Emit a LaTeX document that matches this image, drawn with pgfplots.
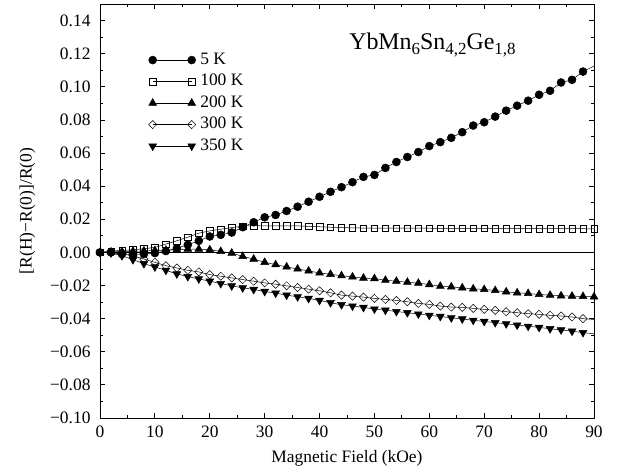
\documentclass[border=0pt]{standalone}
\usepackage{pgfplots}
\pgfplotsset{compat=1.18}
\usepackage{fontspec}
\setmainfont{Liberation Serif}
\newcommand{\sub}[1]{\raisebox{-5bp}{\fontsize{17}{17}\selectfont #1}}
\begin{document}
\begin{tikzpicture}
\begin{axis}[
  scale only axis,
  width=494bp, height=414bp,
  xmin=0, xmax=90, ymin=-0.10, ymax=0.15,
  xtick={0,10,20,30,40,50,60,70,80,90},
  minor x tick num=1,
  ytick={-0.10,-0.08,-0.06,-0.04,-0.02,0,0.02,0.04,0.06,0.08,0.10,0.12,0.14},
  yticklabels={{−0.10},{−0.08},{−0.06},{−0.04},{−0.02},{0.00},{0.02},{0.04},{0.06},{0.08},{0.10},{0.12},{0.14}},
  minor y tick num=1,
  major tick length=5bp, minor tick length=3bp,
  tick style={line width=0.8bp, black},
  axis line style={line width=0.9bp},
  /pgf/number format/assume math mode=true,
  tick label style={font=\fontsize{17.5}{21}\selectfont},
  yticklabel style={xshift=-6bp},
  xticklabel style={yshift=-4bp},
  label style={font=\fontsize{17.5}{21}\selectfont},
  xlabel={Magnetic Field (kOe)},
  ylabel={[R(H)−R(0)]/R(0)},
  xlabel style={at={(axis description cs:0.5,-0.0966)}, anchor=center},
  ylabel style={at={(axis description cs:-0.147,0.5)}, anchor=center},
  legend image code/.code={\draw[#1] plot coordinates {(0bp,0bp)(39bp,0bp)};},
  legend cell align=left,
  legend style={draw=none, fill=none, at={(rel axis cs:0.098,0.891)}, anchor=north west,
    font=\fontsize{17.5}{21}\selectfont, row sep=0pt, column sep=2.5bp, inner sep=0pt,
    nodes={inner sep=2bp, text height=13bp, text depth=4.5bp}},
  every axis plot/.append style={line width=0.5bp, black},
]
\addplot[no marks, forget plot, line width=0.6bp] coordinates {(0,0)(90,0)};

\addplot[mark=*, mark size=4bp, mark options={fill=black}] coordinates {
(0,0) (2,0.0000) (4,-0.0010) (6,-0.0012) (8,-0.0010) (10,-0.0004) (12,0.0008) (14,0.0025)
(16,0.0046) (18,0.0070) (20,0.0096) (22,0.0106) (24,0.0120) (26,0.0152) (28,0.0182)
(30,0.0212) (32,0.0226) (34,0.0250) (36,0.0276) (38,0.0306) (40,0.0336) (42,0.0366)
(44,0.0394) (46,0.0424) (48,0.0456) (50,0.0468) (52,0.0510) (54,0.0546) (56,0.0576)
(58,0.0606) (60,0.0642) (62,0.0666) (64,0.0692) (66,0.0726) (68,0.0766) (70,0.0786)
(72,0.0820) (74,0.0856) (76,0.0886) (78,0.0916) (80,0.0952) (82,0.0976) (84,0.1026)
(86,0.1042) (88,0.1092)};
\addlegendentry{5 K}

\addplot[mark=square, mark size=3.2bp, mark options={fill=white}] coordinates {
(0,0) (2,0.0008) (4,0.0012) (6,0.0016) (8,0.0022) (10,0.0030) (12,0.0050) (14,0.0070)
(16,0.0092) (18,0.0116) (20,0.0130) (22,0.0140) (24,0.0150) (26,0.0158) (28,0.0162)
(30,0.0160) (32,0.0160) (34,0.0160) (36,0.0160) (38,0.0157) (40,0.0155) (42,0.0152)
(44,0.0150) (46,0.0148) (48,0.0147) (50,0.0146) (52,0.0146) (54,0.0146) (56,0.0146)
(58,0.0146) (60,0.0146) (62,0.0145) (64,0.0145) (66,0.0145) (68,0.0145) (70,0.0145)
(72,0.0144) (74,0.0144) (76,0.0144) (78,0.0144) (80,0.0144) (82,0.0143) (84,0.0143)
(86,0.0143) (88,0.0143) (90,0.0142)};
\addlegendentry{100 K}

\addplot[mark=triangle*, mark size=4.5bp, mark options={fill=black}] coordinates {
(0,0) (2,0.0003) (4,0.0005) (6,0.0007) (8,0.0009) (10,0.0011) (12,0.0013) (14,0.0016)
(16,0.0020) (18,0.0020) (20,0.0016) (22,0.0006) (24,-0.0004) (26,-0.0024) (28,-0.0040)
(30,-0.0060) (32,-0.0074) (34,-0.0088) (36,-0.0100) (38,-0.0112) (40,-0.0124) (42,-0.0132)
(44,-0.0141) (46,-0.0148) (48,-0.0155) (50,-0.0158) (52,-0.0168) (54,-0.0174) (56,-0.0180)
(58,-0.0186) (60,-0.0194) (62,-0.0204) (64,-0.0208) (66,-0.0214) (68,-0.0220) (70,-0.0224)
(72,-0.0230) (74,-0.0238) (76,-0.0244) (78,-0.0248) (80,-0.0254) (82,-0.0258) (84,-0.0262)
(86,-0.0264) (88,-0.0266) (90,-0.0268)};
\addlegendentry{200 K}

\addplot[mark=square, mark size=2.9bp, mark options={fill=white, rotate=45}] coordinates {
(0,0) (2,0.0000) (4,-0.0010) (6,-0.0020) (8,-0.0040) (10,-0.0060) (12,-0.0080) (14,-0.0094)
(16,-0.0108) (18,-0.0118) (20,-0.0134) (22,-0.0144) (24,-0.0154) (26,-0.0164) (28,-0.0174)
(30,-0.0184) (32,-0.0192) (34,-0.0202) (36,-0.0212) (38,-0.0222) (40,-0.0232) (42,-0.0244)
(44,-0.0258) (46,-0.0264) (48,-0.0270) (50,-0.0278) (52,-0.0284) (54,-0.0290) (56,-0.0298)
(58,-0.0308) (60,-0.0314) (62,-0.0324) (64,-0.0330) (66,-0.0332) (68,-0.0338) (70,-0.0344)
(72,-0.0350) (74,-0.0358) (76,-0.0364) (78,-0.0370) (80,-0.0374) (82,-0.0380) (84,-0.0384)
(86,-0.0390) (88,-0.0400)};
\addlegendentry{300 K}

\addplot[mark=triangle*, mark size=4.5bp, mark options={fill=black, rotate=180}] coordinates {
(0,0) (2,-0.0003) (4,-0.0020) (6,-0.0044) (8,-0.0068) (10,-0.0088) (12,-0.0108) (14,-0.0130)
(16,-0.0146) (18,-0.0160) (20,-0.0174) (22,-0.0188) (24,-0.0202) (26,-0.0214) (28,-0.0224)
(30,-0.0236) (32,-0.0246) (34,-0.0258) (36,-0.0268) (38,-0.0278) (40,-0.0290) (42,-0.0304)
(44,-0.0316) (46,-0.0324) (48,-0.0332) (50,-0.0342) (52,-0.0349) (54,-0.0357) (56,-0.0364)
(58,-0.0372) (60,-0.0380) (62,-0.0387) (64,-0.0395) (66,-0.0402) (68,-0.0410) (70,-0.0417)
(72,-0.0424) (74,-0.0431) (76,-0.0439) (78,-0.0446) (80,-0.0453) (82,-0.0461) (84,-0.0468)
(86,-0.0476) (88,-0.0484)};
\addlegendentry{350 K}

\addplot[no marks, forget plot] coordinates {(88,0.1092) (90,0.1125)};
\addplot[no marks, forget plot] coordinates {(88,-0.0400) (90,-0.0405)};
\addplot[no marks, forget plot] coordinates {(88,-0.0484) (90,-0.0492)};

\node[anchor=base, font=\fontsize{24}{28}\selectfont] at (rel axis cs:0.673,0.889)
  {YbMn\sub{6}Sn\sub{4,2}Ge\sub{1,8}};
\end{axis}
\pgfresetboundingbox
\path (current axis.south west) ++(-100bp,-54bp) rectangle ++(618bp,472bp);
\end{tikzpicture}
\end{document}
